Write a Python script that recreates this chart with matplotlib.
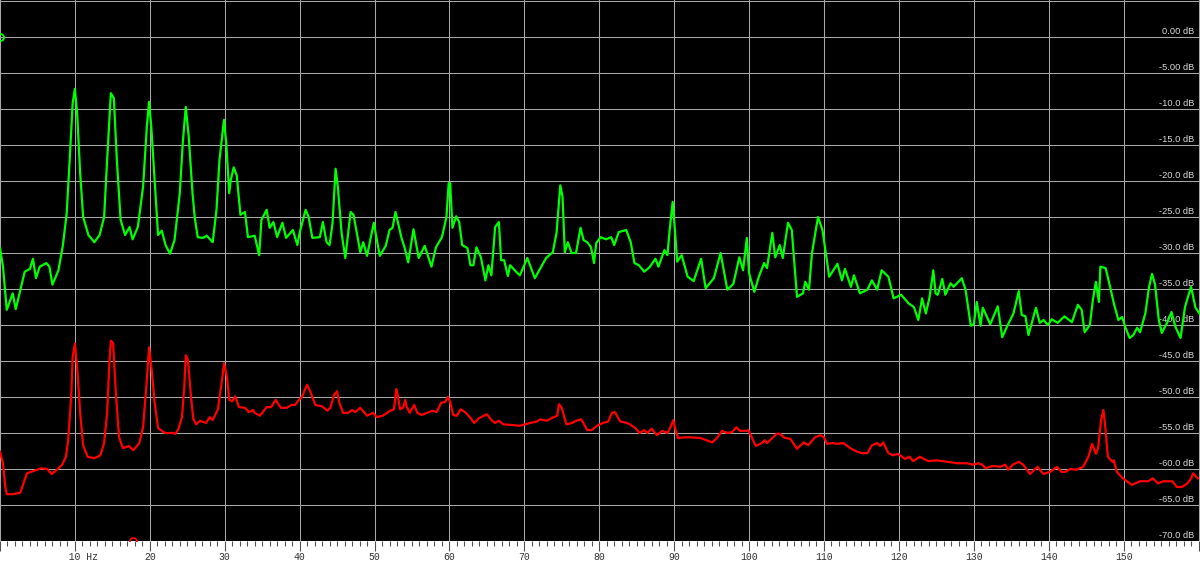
"""Spectrum plot: two FFT traces on a black analyser-style grid."""
import matplotlib.pyplot as plt

# green trace (Hz, dB)
green_hz = [0.0, 0.4, 0.9, 1.7, 2.1, 3.3, 4.0, 4.4, 4.8, 5.3, 6.2, 6.6, 7.0, 7.8, 8.4, 8.9,
            9.3, 9.7, 10.0, 10.3, 10.7, 11.1, 11.8, 12.6, 13.3, 13.9, 14.3, 14.8, 15.2, 15.6,
            16.1, 16.7, 17.3, 17.7, 18.4, 19.1, 19.6, 19.9, 20.2, 20.7, 21.1, 21.6, 22.1, 22.7,
            23.3, 24.0, 24.4, 24.8, 25.2, 25.7, 26.0, 26.4, 27.1, 27.6, 28.4, 28.9, 29.3, 29.9,
            30.2, 30.6, 30.8, 31.2, 31.6, 32.1, 32.7, 33.1, 34.0, 34.6, 34.9, 35.6, 36.0, 36.5,
            37.0, 37.7, 38.2, 39.1, 39.7, 40.0, 40.8, 41.2, 41.7, 42.7, 43.1, 43.6, 44.0, 44.4,
            44.8, 45.1, 45.6, 46.1, 46.8, 47.2, 48.1, 48.5, 49.0, 49.9, 50.7, 51.5, 52.0, 52.4,
            52.8, 53.6, 54.0, 54.5, 55.2, 55.9, 56.7, 57.6, 58.2, 59.0, 59.6, 59.9, 60.1, 60.4,
            60.9, 61.3, 61.7, 62.4, 62.8, 63.2, 63.6, 64.2, 64.8, 65.2, 65.6, 66.1, 66.6, 66.9,
            67.3, 67.8, 68.1, 68.9, 69.4, 70.4, 71.4, 72.9, 73.8, 74.3, 74.8, 75.1, 75.4, 75.8,
            76.3, 76.9, 77.5, 77.9, 78.4, 78.9, 79.3, 79.6, 80.2, 80.9, 81.6, 82.0, 82.6, 83.6,
            84.2, 84.7, 85.3, 86.0, 86.7, 87.5, 87.9, 88.7, 89.1, 89.4, 89.8, 90.1, 90.4, 91.0,
            91.8, 92.6, 93.6, 94.2, 95.3, 96.2, 97.1, 97.9, 98.7, 99.2, 99.7, 100.0, 100.7, 101.3,
            102.0, 102.4, 103.1, 103.5, 104.1, 104.5, 105.2, 105.7, 106.4, 107.2, 107.5, 108.0,
            108.4, 109.2, 109.8, 110.7, 111.8, 112.4, 112.8, 113.6, 114.0, 114.8, 115.8, 116.4,
            117.1, 117.7, 118.6, 119.3, 120.3, 121.3, 122.0, 122.6, 123.1, 123.6, 124.1, 124.6,
            124.9, 125.2, 125.8, 126.2, 126.9, 127.3, 128.4, 128.9, 129.6, 130.0, 130.4, 130.9,
            131.2, 132.2, 133.2, 133.8, 134.4, 135.3, 136.0, 136.4, 136.9, 137.3, 138.3, 138.8,
            139.3, 139.9, 140.4, 141.2, 142.1, 143.1, 143.9, 144.4, 144.8, 145.5, 145.9, 146.3,
            146.7, 146.9, 147.6, 148.2, 148.7, 149.3, 149.8, 150.2, 150.8, 151.3, 151.8, 152.2,
            152.9, 153.4, 153.8, 154.2, 154.7, 155.1, 155.8, 156.4, 156.9, 157.6, 158.2, 159.0,
            159.6, 160.2]
green_db = [-29.3, -31.9, -37.9, -35.6, -37.8, -32.6, -32.2, -30.8, -33.5, -31.9, -31.4, -31.9,
            -34.4, -32.4, -28.9, -24.5, -17.1, -9.2, -7.2, -10.6, -18.9, -25.0, -27.5, -28.5,
            -27.5, -25.0, -17.1, -7.8, -8.5, -17.1, -25.4, -27.5, -26.4, -28.1, -26.4, -20.8,
            -12.5, -9.0, -12.5, -20.8, -27.5, -26.9, -28.9, -30.1, -28.2, -21.7, -14.7, -9.7,
            -13.9, -21.7, -25.1, -27.8, -27.9, -27.6, -28.5, -24.0, -17.1, -11.5, -14.7, -21.7,
            -19.9, -18.1, -19.2, -24.7, -24.3, -27.8, -27.6, -30.3, -25.4, -24.0, -26.5, -25.7,
            -27.8, -25.8, -27.9, -26.8, -28.9, -27.2, -24.0, -25.0, -27.9, -27.8, -25.7, -28.5,
            -28.9, -25.8, -18.3, -20.8, -27.2, -30.7, -24.3, -24.7, -29.9, -28.5, -30.4, -25.8,
            -30.4, -29.0, -26.8, -26.5, -24.3, -27.9, -29.2, -31.3, -26.7, -30.7, -29.0, -31.9,
            -29.2, -27.8, -25.0, -20.3, -20.3, -26.5, -24.9, -25.7, -28.9, -29.3, -31.7, -31.7,
            -29.2, -30.6, -33.8, -31.7, -33.1, -26.4, -25.7, -31.0, -31.0, -33.2, -31.7, -32.6,
            -33.1, -30.7, -33.5, -30.7, -29.9, -27.2, -20.6, -22.2, -29.9, -28.5, -30.0, -30.0,
            -26.5, -28.2, -28.5, -29.2, -31.4, -28.6, -27.8, -28.1, -27.8, -28.9, -27.1, -26.8,
            -28.5, -31.4, -31.7, -32.6, -32.0, -30.8, -31.9, -29.6, -30.3, -26.8, -22.9, -26.8,
            -31.2, -30.3, -33.3, -33.9, -30.8, -34.9, -33.5, -30.0, -35.1, -34.3, -30.6, -32.4,
            -27.9, -32.8, -35.4, -33.3, -31.4, -32.1, -27.2, -30.6, -28.9, -30.7, -25.8, -26.8,
            -36.1, -35.6, -34.0, -35.1, -30.0, -25.0, -26.8, -33.3, -31.5, -33.8, -32.2, -34.7,
            -33.1, -35.6, -35.1, -33.8, -35.1, -32.4, -33.3, -36.3, -35.8, -37.0, -37.5, -39.3,
            -36.3, -38.4, -36.1, -32.4, -35.6, -35.8, -33.6, -35.8, -34.2, -34.7, -33.5, -35.1,
            -40.1, -39.9, -36.8, -40.1, -37.6, -39.9, -37.4, -41.7, -40.3, -38.4, -35.3, -38.6,
            -38.8, -41.4, -37.6, -39.7, -39.3, -40.0, -39.2, -39.7, -38.8, -39.6, -37.2, -37.9,
            -41.0, -40.0, -36.5, -34.0, -36.8, -31.9, -32.1, -34.7, -37.0, -39.3, -38.9, -40.2,
            -41.8, -41.4, -40.4, -41.0, -38.4, -34.7, -32.9, -34.4, -39.3, -41.1, -39.7, -38.2,
            -40.2, -41.8, -37.5, -34.7, -37.6, -38.5]

# red trace (Hz, dB)
red_hz = [0.0, 0.4, 0.7, 0.9, 1.7, 2.7, 3.2, 3.6, 4.4, 5.5, 6.3, 6.9, 7.6, 8.3, 8.8, 9.1, 9.5,
          9.7, 10.0, 10.3, 10.7, 11.1, 11.7, 12.6, 13.4, 13.9, 14.3, 14.6, 14.8, 15.1, 15.5,
          15.9, 16.4, 17.2, 17.8, 18.6, 19.1, 19.6, 19.9, 20.3, 20.6, 21.1, 22.0, 23.0, 23.4,
          23.8, 24.3, 24.6, 24.8, 25.1, 25.5, 25.8, 26.2, 26.7, 27.5, 28.0, 28.4, 29.1, 29.5,
          29.8, 29.9, 30.3, 30.6, 31.0, 31.4, 31.9, 32.7, 33.2, 33.8, 34.0, 34.7, 35.6, 36.2,
          36.8, 37.5, 38.3, 38.9, 39.4, 39.9, 40.3, 41.0, 41.4, 42.1, 43.0, 43.7, 44.1, 44.6,
          45.0, 45.3, 45.8, 46.5, 47.0, 47.4, 48.1, 49.0, 49.8, 50.3, 51.1, 52.1, 52.6, 52.9,
          53.1, 53.4, 53.8, 54.1, 54.3, 54.7, 55.3, 55.7, 56.3, 57.0, 57.8, 58.3, 58.9, 59.4,
          59.8, 60.1, 60.5, 61.0, 61.5, 62.1, 62.8, 63.3, 64.0, 65.0, 65.7, 66.1, 66.6, 67.2,
          68.5, 69.4, 70.1, 70.8, 71.7, 72.1, 73.0, 73.7, 74.4, 74.6, 75.0, 75.6, 76.4, 76.9,
          77.6, 78.4, 79.0, 79.7, 80.5, 81.2, 81.7, 82.1, 82.8, 83.7, 84.1, 84.8, 85.4, 86.0,
          86.4, 87.0, 87.7, 88.4, 89.1, 89.5, 89.9, 90.1, 90.5, 91.5, 92.1, 93.5, 95.1, 95.7,
          96.4, 97.1, 97.7, 98.3, 98.8, 99.6, 99.9, 100.4, 100.9, 101.7, 102.1, 102.4, 103.2,
          103.7, 104.1, 104.8, 105.5, 106.4, 107.3, 107.9, 108.8, 109.5, 110.0, 110.4, 111.2,
          111.7, 112.6, 113.5, 114.4, 115.1, 115.8, 116.4, 117.1, 117.5, 117.9, 118.6, 119.2,
          119.9, 120.8, 121.4, 121.9, 122.8, 123.9, 125.1, 126.4, 127.8, 129.1, 129.9, 130.6,
          131.1, 131.6, 132.4, 132.8, 133.5, 134.2, 134.6, 135.2, 136.0, 136.6, 137.5, 138.5,
          139.3, 140.2, 141.1, 141.7, 142.2, 142.9, 143.7, 144.6, 145.3, 145.8, 146.3, 146.6,
          147.0, 147.3, 147.5, 147.9, 148.5, 148.7, 149.1, 149.9, 151.1, 152.2, 153.3, 153.9,
          154.6, 155.3, 156.5, 157.1, 157.8, 158.5, 158.9, 159.3, 159.9]
red_db = [-57.6, -59.2, -62.5, -63.5, -63.5, -63.3, -61.8, -60.6, -60.3, -59.9, -60.0, -60.7,
          -60.1, -59.4, -58.3, -56.0, -50.0, -44.4, -42.6, -45.8, -52.2, -56.7, -58.3, -58.5,
          -58.1, -56.4, -52.2, -45.3, -42.2, -42.5, -50.0, -55.6, -57.1, -56.8, -57.4, -56.4,
          -54.2, -47.6, -43.1, -46.7, -50.4, -54.3, -55.0, -55.0, -55.1, -54.5, -52.8, -48.6,
          -44.2, -44.9, -50.0, -53.0, -53.8, -53.3, -53.6, -52.8, -53.2, -51.7, -48.6, -46.3,
          -45.3, -47.2, -50.4, -50.6, -49.9, -51.4, -51.5, -52.1, -51.8, -52.2, -52.6, -51.4,
          -51.4, -50.4, -51.5, -51.5, -51.1, -51.1, -50.4, -50.0, -48.3, -49.2, -51.1, -51.3,
          -51.9, -51.5, -49.7, -49.2, -50.8, -52.2, -52.2, -51.8, -52.1, -51.5, -52.6, -52.2,
          -52.8, -52.6, -51.9, -51.7, -48.9, -49.7, -51.7, -51.5, -50.4, -51.4, -52.2, -51.1,
          -52.2, -52.5, -52.2, -51.9, -52.1, -50.8, -50.7, -50.0, -50.7, -52.5, -52.6, -51.7,
          -52.1, -52.9, -53.6, -52.9, -52.4, -53.3, -53.6, -53.3, -53.8, -53.9, -54.0, -53.8,
          -53.6, -53.4, -53.1, -53.3, -52.9, -52.6, -51.0, -51.5, -53.8, -53.6, -53.3, -53.1,
          -54.6, -54.6, -54.0, -53.6, -53.4, -52.2, -52.1, -53.4, -53.6, -53.8, -54.3, -55.0,
          -54.6, -55.0, -54.4, -55.3, -54.7, -55.0, -54.2, -53.2, -54.2, -55.7, -55.6, -55.6,
          -55.7, -56.3, -55.7, -54.7, -55.0, -54.9, -54.2, -54.7, -54.7, -54.6, -55.7, -56.8,
          -56.4, -56.0, -56.4, -55.6, -55.1, -55.1, -55.7, -55.8, -57.2, -56.3, -56.7, -55.6,
          -55.3, -55.6, -56.5, -56.4, -56.5, -56.4, -57.1, -57.6, -57.8, -57.8, -56.7, -56.4,
          -56.8, -56.3, -57.8, -58.1, -57.9, -58.6, -58.3, -58.9, -58.3, -58.9, -58.8, -59.0,
          -59.2, -59.2, -59.4, -59.2, -59.4, -59.9, -59.6, -59.6, -59.7, -59.4, -60.1, -59.4,
          -59.0, -59.4, -60.7, -59.7, -60.7, -60.4, -59.7, -60.4, -60.4, -60.0, -60.1, -59.7,
          -58.3, -56.5, -57.9, -57.1, -53.2, -51.8, -53.6, -58.3, -59.0, -58.8, -60.4, -61.3,
          -62.2, -61.7, -61.7, -61.3, -62.0, -61.7, -61.7, -62.5, -62.5, -62.0, -61.5, -60.6,
          -61.3]

freq_ticks = [0, 10, 20, 30, 40, 50, 60, 70, 80, 90, 100, 110, 120, 130, 140, 150, 160]
freq_labels = ['', '   10 Hz', '20', '30', '40', '50', '60', '70', '80', '90', '100', '110',
               '120', '130', '140', '150', '']
db_levels = [5, 0, -5, -10, -15, -20, -25, -30, -35, -40, -45, -50, -55, -60, -65, -70]
db_labels = ['', '0.00 dB', '-5.00 dB', '-10.0 dB', '-15.0 dB', '-20.0 dB', '-25.0 dB',
             '-30.0 dB', '-35.0 dB', '-40.0 dB', '-45.0 dB', '-50.0 dB', '-55.0 dB',
             '-60.0 dB', '-65.0 dB', '-70.0 dB']

# cursor markers
green_cursor = (0.0, 0.0)
red_cursor = (17.8, -70.0)

fig = plt.figure(figsize=(12, 5.62), dpi=100, facecolor='white')
ax = fig.add_axes([0, 21 / 562, 1, 541 / 562], facecolor='black')
ax.set_xlim(0, 160.2)
ax.set_ylim(-70, 5.14)

# grid
ax.set_xticks(freq_ticks)
ax.set_xticks(range(0, 161), minor=True)
ax.set_yticks(db_levels)
ax.grid(True, which='major', color='#a8a8a8', lw=0.75)
ax.set_axisbelow(True)
for s in ax.spines.values():
    s.set_visible(False)

# frequency strip
ax.set_xticklabels(freq_labels)
ax.tick_params(axis='x', which='major', length=7.5, width=0.8, color='#505050', pad=0.5,
               labelsize=7, labelcolor='#303030')
ax.tick_params(axis='x', which='minor', length=3.8, width=0.8, color='#505050')
for lbl in ax.get_xticklabels():
    lbl.set_fontfamily('Liberation Mono')
ax.tick_params(axis='y', length=0, labelleft=False)

# level labels on the right
for lvl, txt in zip(db_levels, db_labels):
    ax.annotate(txt, xy=(0.995, lvl), xycoords=('axes fraction', 'data'),
                xytext=(0, 2), textcoords='offset points', ha='right', va='baseline',
                fontsize=6.7, color='#d8d8d8', family='Liberation Sans')

# traces
ax.plot(red_hz, red_db, color='#ff0000', lw=1.6, zorder=3)
ax.plot(green_hz, green_db, color='#00ff00', lw=1.6, zorder=3)
ax.plot(*green_cursor, marker='o', ms=5, mfc='none', mec='#00ff00', mew=1.3, zorder=4)
ax.plot(*red_cursor, marker='o', ms=5, mfc='none', mec='#ff0000', mew=1.3, zorder=4)

fig.savefig('out.png', dpi=100, facecolor=fig.get_facecolor())
